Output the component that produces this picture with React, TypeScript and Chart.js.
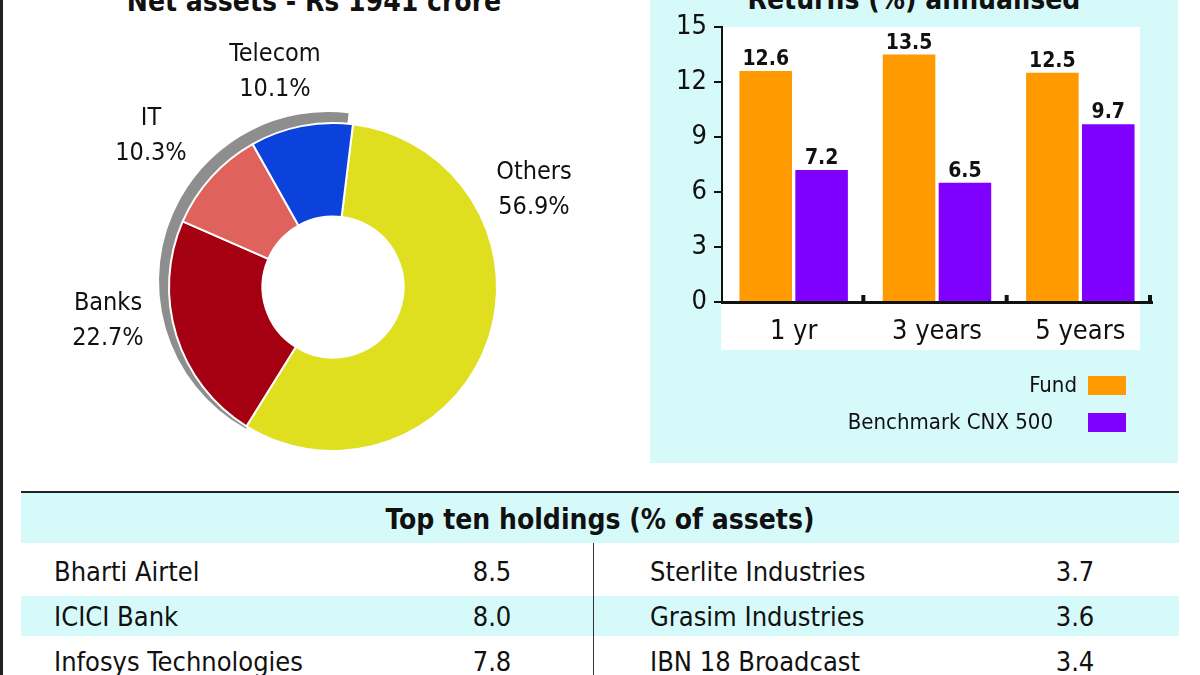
import React, { useEffect, useRef } from 'react';
import { Chart, registerables } from 'chart.js';

Chart.register(...registerables);

// ---------- data ----------
const sectorLabels = ['Others', 'Banks', 'IT', 'Telecom'];
const sectorShares = [56.9, 22.7, 10.3, 10.1];

const periods = ['1 yr', '3 years', '5 years'];
const fundReturns = [12.6, 13.5, 12.5];
const benchmarkReturns = [7.2, 6.5, 9.7];
const seriesNames = ['Fund', 'Benchmark CNX 500'];

const holdingsLeftNames = ['Bharti Airtel', 'ICICI Bank', 'Infosys Technologies'];
const holdingsLeftValues = [8.5, 8.0, 7.8];
const holdingsRightNames = ['Sterlite Industries', 'Grasim Industries', 'IBN 18 Broadcast'];
const holdingsRightValues = [3.7, 3.6, 3.4];

// ---------- style ----------
const sectorColors = ['#dfdf1f', '#a50012', '#e0625d', '#0b42dc'];
const fundColor = '#ff9a00';
const benchColor = '#8000ff';
const cyan = '#d6fafa';
const COND = '"DejaVu Sans Condensed", "DejaVu Sans", sans-serif';
// label placement relative to doughnut centre, one per sector
const pieLabelOffsets: [number, number][] = [
  [201, -98],
  [-225, 33],
  [-182, -152],
  [-58, -216],
];

const pieShadow = {
  id: 'pieShadow',
  beforeDatasetsDraw(chart: any) {
    const arcs = chart.getDatasetMeta(0).data;
    if (!arcs.length) return;
    const a0 = arcs[1];
    const a3 = arcs[3];
    const ctx = chart.ctx;
    const cx = a0.x - 5;
    const cy = a0.y - 6;
    const R = a0.outerRadius + 5;
    const r = a0.outerRadius - 14;
    ctx.save();
    ctx.beginPath();
    ctx.arc(cx, cy, R, a0.startAngle - 0.05, a3.endAngle);
    ctx.arc(cx, cy, r, a3.endAngle, a0.startAngle - 0.05, true);
    ctx.closePath();
    ctx.fillStyle = '#8e8e8e';
    ctx.fill();
    ctx.restore();
  },
};

const pieLabels = {
  id: 'pieLabels',
  afterDraw(chart: any) {
    const arcs = chart.getDatasetMeta(0).data;
    if (!arcs.length) return;
    const ctx = chart.ctx;
    const cx = arcs[0].x;
    const cy = arcs[0].y;
    ctx.save();
    ctx.font = `25px ${COND}`;
    ctx.fillStyle = '#111';
    ctx.textAlign = 'center';
    ctx.textBaseline = 'middle';
    sectorLabels.forEach((name, i) => {
      const [dx, dy] = pieLabelOffsets[i];
      ctx.fillText(name, cx + dx, cy + dy - 17);
      ctx.fillText(`${sectorShares[i].toFixed(1)}%`, cx + dx, cy + dy + 18);
    });
    ctx.restore();
  },
};

const barValueLabels = {
  id: 'barValueLabels',
  afterDatasetsDraw(chart: any) {
    const ctx = chart.ctx;
    ctx.save();
    ctx.font = `bold 21px ${COND}`;
    ctx.fillStyle = '#111';
    ctx.textAlign = 'center';
    ctx.textBaseline = 'alphabetic';
    chart.data.datasets.forEach((ds: any, di: number) => {
      const meta = chart.getDatasetMeta(di);
      meta.data.forEach((el: any, i: number) => {
        ctx.fillText(Number(ds.data[i]).toFixed(1), el.x, el.y - 6);
      });
    });
    ctx.restore();
  },
};

const categoryTicks = {
  id: 'categoryTicks',
  afterDraw(chart: any) {
    const xs = chart.scales.x;
    const n = chart.data.labels.length;
    const w = (xs.right - xs.left) / n;
    const ctx = chart.ctx;
    ctx.save();
    ctx.fillStyle = '#111';
    for (let i = 0; i < n; i++) {
      const x = xs.getPixelForValue(i) + w / 2;
      ctx.fillRect(x - 4, xs.top - 7, 4, 7);
    }
    ctx.restore();
  },
};

export default function App() {
  const pieRef = useRef<HTMLCanvasElement>(null);
  const barRef = useRef<HTMLCanvasElement>(null);

  useEffect(() => {
    const pie = new Chart(pieRef.current!, {
      type: 'doughnut',
      data: {
        labels: sectorLabels,
        datasets: [
          {
            data: sectorShares,
            backgroundColor: sectorColors,
            borderColor: '#ffffff',
            borderWidth: 2,
          },
        ],
      },
      options: {
        responsive: false,
        animation: false,
        rotation: 7,
        cutout: '43%',
        layout: { padding: { left: 168, right: 142, top: 122, bottom: 28 } },
        plugins: { legend: { display: false }, tooltip: { enabled: false } },
      },
      plugins: [pieShadow, pieLabels],
    } as any);

    const bar = new Chart(barRef.current!, {
      type: 'bar',
      data: {
        labels: periods,
        datasets: [
          {
            label: seriesNames[0],
            data: fundReturns,
            backgroundColor: fundColor,
            categoryPercentage: 0.78,
            barPercentage: 0.94,
          },
          {
            label: seriesNames[1],
            data: benchmarkReturns,
            backgroundColor: benchColor,
            categoryPercentage: 0.78,
            barPercentage: 0.94,
          },
        ],
      },
      options: {
        responsive: false,
        animation: false,
        layout: { padding: { left: 0, right: 28, top: 27, bottom: 118 } },
        scales: {
          x: {
            grid: { display: false },
            border: { color: '#111', width: 3 },
            ticks: { font: { family: COND, size: 27 }, color: '#111', padding: 6 },
            afterFit: (s: any) => {
              s.height = 50;
            },
          },
          y: {
            min: 0,
            max: 15,
            ticks: { stepSize: 3, font: { family: COND, size: 27 }, color: '#111', padding: 7 },
            grid: { drawOnChartArea: false, drawTicks: true, tickLength: 8, color: '#111', lineWidth: 2 },
            border: { color: '#111', width: 2 },
            afterFit: (s: any) => {
              s.width = 82;
            },
          },
        },
        plugins: { legend: { display: false }, tooltip: { enabled: false } },
      },
      plugins: [barValueLabels, categoryTicks],
    } as any);

    return () => {
      pie.destroy();
      bar.destroy();
    };
  }, []);

  const abs = (l: number, t: number, w: number, h: number, extra: React.CSSProperties = {}): React.CSSProperties => ({
    position: 'absolute',
    left: l,
    top: t,
    width: w,
    height: h,
    ...extra,
  });

  const rowText = (y: number): React.CSSProperties => ({
    position: 'absolute',
    top: y - 20,
    height: 40,
    lineHeight: '40px',
    fontFamily: COND,
    fontSize: 27,
    color: '#111',
    whiteSpace: 'nowrap',
  });

  const titleStyle = (left: number, width: number, top: number): React.CSSProperties => ({
    position: 'absolute',
    left,
    width,
    top,
    height: 40,
    lineHeight: '40px',
    textAlign: 'center',
    fontFamily: COND,
    fontWeight: 'bold',
    fontSize: 28,
    color: '#111',
    whiteSpace: 'nowrap',
  });

  const rowCenters = [572, 617, 662];

  return (
    <div style={{ position: 'absolute', left: 0, top: 0, width: 1200, height: 675, overflow: 'hidden', background: '#fff' }}>
      {/* left border */}
      <div style={abs(0, 0, 3, 675, { background: '#222' })} />

      {/* title left (cut at the top edge) */}
      <div style={titleStyle(0, 628, -18)}>Net assets - Rs 1941 crore</div>

      {/* right panel */}
      <div style={abs(650, 0, 528, 463, { background: cyan })} />
      <div style={abs(721, 27, 419, 323, { background: '#fff' })} />
      <div style={titleStyle(650, 528, -20)}>Returns (%) annualised</div>

      <canvas ref={pieRef} width={640} height={480} style={abs(0, 0, 640, 480)} />
      <canvas ref={barRef} width={540} height={470} style={abs(640, 0, 540, 470)} />

      {/* legend */}
      {seriesNames.map((name, i) => (
        <React.Fragment key={name}>
          <div
            style={{
              position: 'absolute',
              right: 1200 - (i === 0 ? 1077 : 1053),
              top: (i === 0 ? 385 : 422) - 16,
              height: 32,
              lineHeight: '32px',
              fontFamily: COND,
              fontSize: 22,
              color: '#111',
              whiteSpace: 'nowrap',
            }}
          >
            {name}
          </div>
          <div style={abs(1088, i === 0 ? 376 : 413, 38, 19, { background: i === 0 ? fundColor : benchColor })} />
        </React.Fragment>
      ))}

      {/* table */}
      <div style={abs(21, 491, 1158, 2, { background: '#222' })} />
      <div style={abs(21, 493, 1158, 50, { background: cyan })} />
      <div style={abs(21, 596, 1158, 40, { background: cyan })} />
      <div style={abs(593, 543, 1, 132, { background: '#333' })} />
      <div
        style={{
          position: 'absolute',
          left: 21,
          width: 1158,
          top: 498,
          height: 44,
          lineHeight: '44px',
          textAlign: 'center',
          fontFamily: COND,
          fontWeight: 'bold',
          fontSize: 28,
          color: '#111',
          whiteSpace: 'nowrap',
        }}
      >
        Top ten holdings (% of assets)
      </div>
      {holdingsLeftNames.map((n, i) => (
        <React.Fragment key={n}>
          <div style={{ ...rowText(rowCenters[i]), left: 54 }}>{n}</div>
          <div style={{ ...rowText(rowCenters[i]), left: 442, width: 100, textAlign: 'center' }}>
            {holdingsLeftValues[i].toFixed(1)}
          </div>
        </React.Fragment>
      ))}
      {holdingsRightNames.map((n, i) => (
        <React.Fragment key={n}>
          <div style={{ ...rowText(rowCenters[i]), left: 650 }}>{n}</div>
          <div style={{ ...rowText(rowCenters[i]), left: 1025, width: 100, textAlign: 'center' }}>
            {holdingsRightValues[i].toFixed(1)}
          </div>
        </React.Fragment>
      ))}
    </div>
  );
}
